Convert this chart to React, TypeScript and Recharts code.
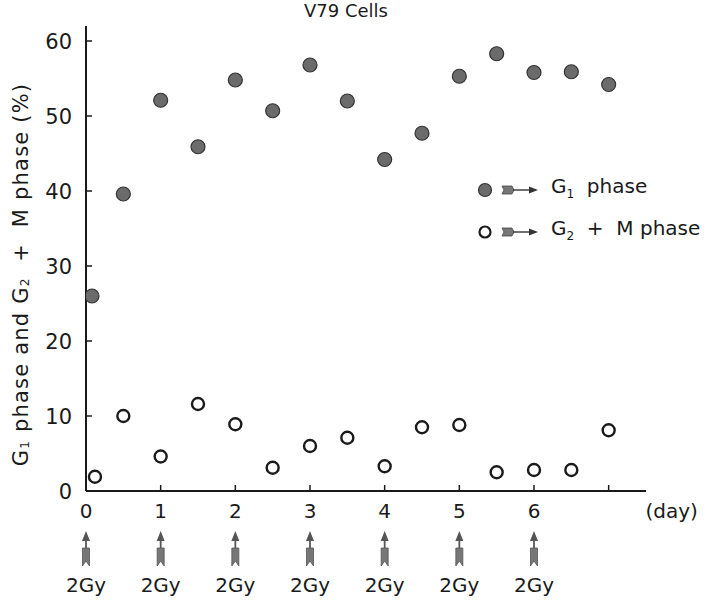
import { ScatterChart, Scatter, XAxis, YAxis } from 'recharts';

// days after first irradiation
const g1Days = [0.08, 0.5, 1, 1.5, 2, 2.5, 3, 3.5, 4, 4.5, 5, 5.5, 6, 6.5, 7];
const g1Values = [26, 39.6, 52.1, 45.9, 54.8, 50.7, 56.8, 52, 44.2, 47.7, 55.3, 58.3, 55.8, 55.9, 54.2];

const g2mDays = [0.12, 0.5, 1, 1.5, 2, 2.5, 3, 3.5, 4, 4.5, 5, 5.5, 6, 6.5, 7];
const g2mValues = [1.9, 10, 4.6, 11.6, 8.9, 3.1, 6, 7.1, 3.3, 8.5, 8.8, 2.5, 2.8, 2.8, 8.1];

const xTicks = [0, 1, 2, 3, 4, 5, 6, 7];
const yTicks = [0, 10, 20, 30, 40, 50, 60];
const doseLabel = '2Gy';

const g1Data = g1Days.map((d, i) => ({ day: d, pct: g1Values[i] }));
const g2mData = g2mDays.map((d, i) => ({ day: d, pct: g2mValues[i] }));

const FONT = '"DejaVu Sans", Verdana, sans-serif';
const INK = '#1a1a1a';

const FilledDot = (props: any) => (
  <circle cx={props.cx} cy={props.cy} r={7} fill="#6b6b6b" stroke="#333" strokeWidth={1.2} />
);

const HollowDot = (props: any) => (
  <circle cx={props.cx} cy={props.cy} r={6} fill="#fff" stroke={INK} strokeWidth={2.4} />
);

function DoseArrow({ x, y }: { x: number; y: number }) {
  // y = arrow tip
  return (
    <g>
      <line x1={x} y1={y + 6} x2={x} y2={y + 30} stroke="#555" strokeWidth={1.8} />
      <path d={`M${x},${y} L${x - 4},${y + 10} L${x + 4},${y + 10} Z`} fill="#555" />
      <path
        d={`M${x - 3.5},${y + 17} L${x + 3.5},${y + 17} L${x + 3.5},${y + 35} L${x},${y + 30} L${x - 3.5},${y + 35} Z`}
        fill="#777"
        stroke="#555"
        strokeWidth={0.8}
      />
    </g>
  );
}

const XTick = (props: any) => {
  const { x, y, payload } = props;
  const v = payload.value;
  return (
    <g>
      <line x1={x} y1={y} x2={x} y2={y - 6} stroke={INK} strokeWidth={1.5} />
      {v <= 6 ? (
        <>
          <text x={x} y={y + 27} textAnchor="middle" fontSize={20} fill={INK} fontFamily={FONT}>
            {v}
          </text>
          <DoseArrow x={x} y={y + 40} />
          <text x={x} y={y + 101} textAnchor="middle" fontSize={20} fill={INK} fontFamily={FONT}>
            {doseLabel}
          </text>
        </>
      ) : (
        <text x={x + 63} y={y + 27} textAnchor="middle" fontSize={20} fill={INK} fontFamily={FONT}>
          (day)
        </text>
      )}
    </g>
  );
};

const YTick = (props: any) => {
  const { x, y, payload } = props;
  return (
    <g>
      <line x1={x} y1={y} x2={x + 6} y2={y} stroke={INK} strokeWidth={1.5} />
      <text x={x - 14} y={y + 8} textAnchor="end" fontSize={21} fill={INK} fontFamily={FONT}>
        {payload.value}
      </text>
    </g>
  );
};

const YLabel = (props: any) => {
  const vb = props.viewBox || {};
  const cx = 21;
  const cy = vb.y + vb.height / 2 + 16;
  return (
    <text
      x={cx}
      y={cy}
      transform={`rotate(-90 ${cx} ${cy})`}
      textAnchor="middle"
      dominantBaseline="central"
      fontSize={21}
      letterSpacing={1.2}
      fill={INK}
      fontFamily={FONT}
    >
      G<tspan fontSize={12} dy={4}>1</tspan>
      <tspan dy={-4}> phase and G</tspan>
      <tspan fontSize={12} dy={4}>2</tspan>
      <tspan dy={-4}>{'\u00a0 + \u00a0M phase (%)'}</tspan>
    </text>
  );
};

function LegendArrow() {
  return (
    <svg width={38} height={14} style={{ marginLeft: 8, marginRight: 12 }}>
      <path d="M1,3 L11,3 L13,7 L11,11 L1,11 L3,7 Z" fill="#777" stroke="#444" strokeWidth={0.8} />
      <line x1={12} y1={7} x2={33} y2={7} stroke="#333" strokeWidth={1.4} />
      <path d="M37,7 L28,3.5 L28,10.5 Z" fill="#333" />
    </svg>
  );
}

export default function App() {
  return (
    <div style={{ position: 'absolute', left: 0, top: 0, width: 709, height: 600, background: '#fff', fontFamily: FONT }}>
      <div
        style={{
          position: 'absolute',
          left: 0,
          width: 692,
          top: 0,
          textAlign: 'center',
          fontSize: 18,
          color: INK,
        }}
      >
        V79 Cells
      </div>
      <ScatterChart width={709} height={600} margin={{ top: 26, right: 63, bottom: 9, left: 30 }}>
        <XAxis
          type="number"
          dataKey="day"
          domain={[0, 7.5]}
          ticks={xTicks}
          tickSize={0}
          tickMargin={0}
          tick={<XTick />}
          axisLine={{ stroke: INK, strokeWidth: 2 }}
          height={100}
          allowDataOverflow
        />
        <YAxis
          type="number"
          dataKey="pct"
          domain={[0, 62]}
          ticks={yTicks}
          tickSize={0}
          tickMargin={0}
          tick={<YTick />}
          axisLine={{ stroke: INK, strokeWidth: 2 }}
          width={56}
          label={<YLabel />}
          allowDataOverflow
        />
        <Scatter name="G1 phase" data={g1Data} shape={<FilledDot />} isAnimationActive={false} />
        <Scatter name="G2 + M phase" data={g2mData} shape={<HollowDot />} isAnimationActive={false} />
      </ScatterChart>
      <div style={{ position: 'absolute', left: 477, top: 177, fontSize: 20, color: INK, lineHeight: '26px' }}>
        <div style={{ display: 'flex', alignItems: 'center', height: 26 }}>
          <svg width={16} height={16}>
            <circle cx={8} cy={8} r={6.5} fill="#6b6b6b" stroke="#333" strokeWidth={1.2} />
          </svg>
          <LegendArrow />
          <span>
            G<sub style={{ fontSize: 12 }}>1</sub>&nbsp; phase
          </span>
        </div>
        <div style={{ display: 'flex', alignItems: 'center', height: 26, marginTop: 16 }}>
          <svg width={16} height={16}>
            <circle cx={8} cy={8} r={5.5} fill="#fff" stroke={INK} strokeWidth={2.2} />
          </svg>
          <LegendArrow />
          <span style={{ whiteSpace: 'nowrap' }}>
            G<sub style={{ fontSize: 12 }}>2</sub>&nbsp; + &nbsp;M phase
          </span>
        </div>
      </div>
    </div>
  );
}
